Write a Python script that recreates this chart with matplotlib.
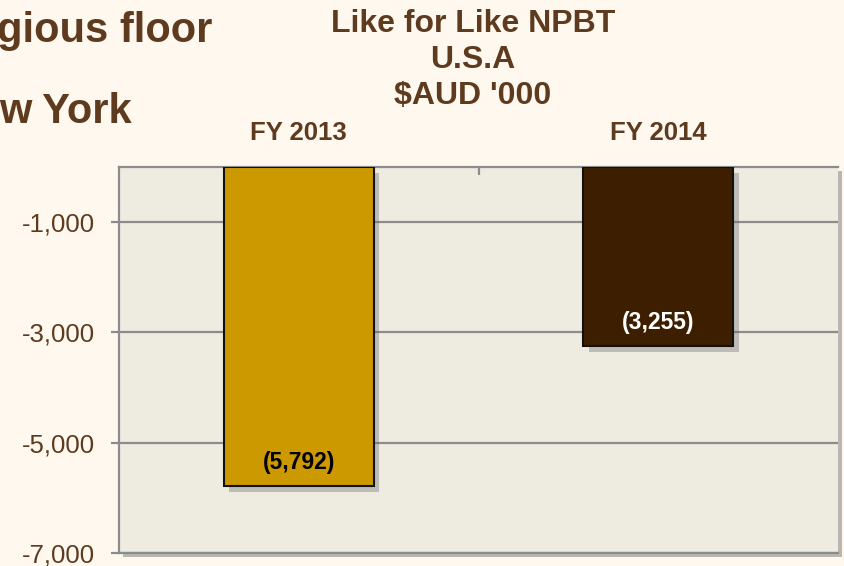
import matplotlib
matplotlib.use("Agg")
import matplotlib.pyplot as plt
import matplotlib.patheffects as pe
from matplotlib.ticker import FuncFormatter

categories = ["FY 2013", "FY 2014"]
values = [-5792, -3255]
value_labels = ["(5,792)", "(3,255)"]
bar_colors = ["#CC9900", "#3D1F00"]
label_colors = ["#000000", "#FFFFFF"]
yticks = [-1000, -3000, -5000, -7000]
title_lines = ["Like for Like NPBT", "U.S.A", "$AUD '000"]
side_lines = ["gious floor", "w York"]

W, H = 844, 566
BROWN = "#5E3B1F"
BG = "#FEF8EF"
PLOT_BG = "#EEEBE1"
GRID = "#8C8C8C"

plt.rcParams['font.family'] = ['Liberation Sans', 'DejaVu Sans']

fig = plt.figure(figsize=(W / 100, H / 100), dpi=100)
fig.patch.set_facecolor(BG)

ax = fig.add_axes([119 / W, 1 - 553 / H, (838 - 119) / W, (553 - 167) / H])
ax.set_facecolor(PLOT_BG)
ax.patch.set_path_effects([pe.SimplePatchShadow(offset=(3, -3), shadow_rgbFace="#777777", alpha=0.5), pe.Normal()])

x = list(range(len(categories)))
bars = ax.bar(x, values, width=0.418, color=bar_colors, edgecolor="#111111", linewidth=1.5, zorder=3)
for b in bars:
    b.set_path_effects([pe.SimplePatchShadow(offset=(4, -4), shadow_rgbFace="#666666", alpha=0.35), pe.Normal()])

ax.set_xlim(-0.5, 1.5)
ax.set_ylim(-7000, 0)
ax.set_yticks(yticks)
ax.yaxis.set_major_formatter(FuncFormatter(lambda v, p: f"{int(v):,}"))
ax.grid(axis="y", color=GRID, linewidth=1.6, zorder=1)
ax.tick_params(axis="y", direction="out", length=6, width=1.6, color=GRID,
               labelsize=18.5, labelcolor=BROWN, pad=11)

ax.set_xticks(x)
ax.set_xticklabels(categories, fontsize=18.5, fontweight="bold", color=BROWN)
ax.xaxis.tick_top()
ax.tick_params(axis="x", which="major", length=0, pad=16)
ax.set_xticks([0.5], minor=True)
ax.tick_params(axis="x", which="minor", direction="in", length=6, width=1.6, color=GRID, top=True, bottom=False)

for side in ["left", "top", "bottom"]:
    ax.spines[side].set_color(GRID)
    ax.spines[side].set_linewidth(1.6)
ax.spines["right"].set_visible(False)

for xi, v, lab, c in zip(x, values, value_labels, label_colors):
    ax.annotate(lab, (xi, v), xytext=(0, 9), textcoords="offset points",
                ha="center", va="bottom", fontsize=16.5, fontweight="bold", color=c,
                zorder=5)

for t, yb in zip(title_lines, [32, 68, 104]):
    fig.text(473 / W, 1 - yb / H, t, ha="center", va="baseline", fontsize=23,
             fontweight="bold", color=BROWN)

fig.text(212 / W, 1 - 42 / H, side_lines[0], ha="right", va="baseline", fontsize=30,
         fontweight="bold", color=BROWN)
fig.text(132 / W, 1 - 123 / H, side_lines[1], ha="right", va="baseline", fontsize=30,
         fontweight="bold", color=BROWN)

fig.savefig("out.png", dpi=100, facecolor=BG)
